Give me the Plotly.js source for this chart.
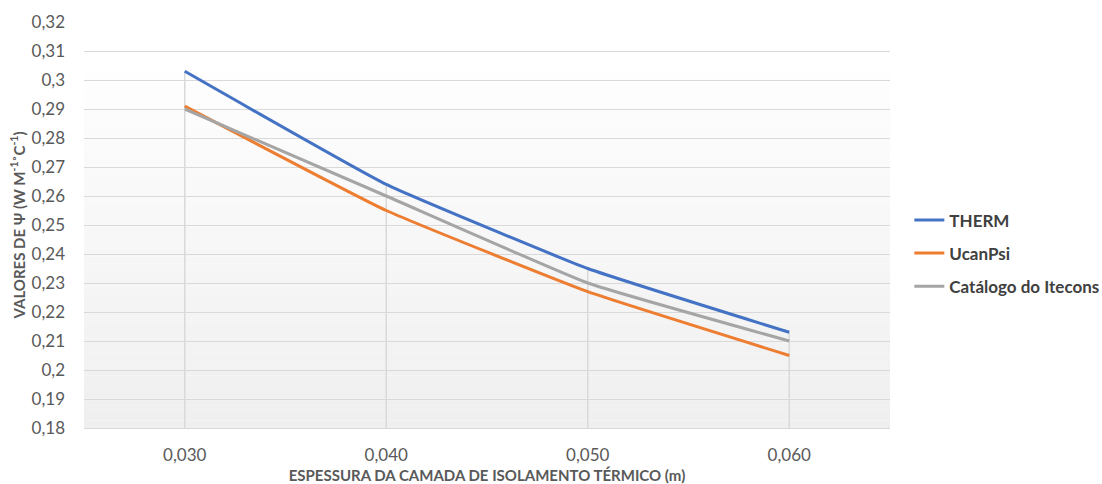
<!DOCTYPE html>
<html>
<head>
<meta charset="utf-8">
<script src="https://cdn.plot.ly/plotly-3.0.1.min.js"></script>
<style>
  html, body { margin: 0; padding: 0; background: #ffffff; }
  #chart { width: 1102px; height: 484px; }
</style>
</head>
<body>
<div id="chart"></div>
<script>
// Insulation layer thickness (m) and linear thermal transmittance Ψ (W m-1 °C-1)
const categories = ['0,030', '0,040', '0,050', '0,060'];
const therm    = [0.303, 0.264, 0.235, 0.213];
const ucanPsi  = [0.291, 0.255, 0.227, 0.205];
const itecons  = [0.290, 0.260, 0.230, 0.210];

const seriesNames = ['THERM', 'UcanPsi', 'Catálogo do Itecons'];
const seriesColors = ['#4472C4', '#ED7D31', '#A5A5A5'];

const yTickVals = [0.18, 0.19, 0.20, 0.21, 0.22, 0.23, 0.24, 0.25, 0.26, 0.27, 0.28, 0.29, 0.30, 0.31, 0.32];
const yTickText = ['0,18', '0,19', '0,2', '0,21', '0,22', '0,23', '0,24', '0,25', '0,26', '0,27', '0,28', '0,29', '0,3', '0,31', '0,32'];

const Y_MIN = 0.18, Y_MAX = 0.32;
const FONT = 'Lato, "Open Sans", sans-serif';

// Drop lines: one vertical segment per category, from the axis floor up to the highest series
const allSeries = [therm, ucanPsi, itecons];
const dropX = [], dropY = [];
categories.forEach((c, i) => {
  const top = Math.max(...allSeries.map(s => s[i]));
  dropX.push(c, c, null);
  dropY.push(Y_MIN, top, null);
});

const traces = [{
  x: dropX, y: dropY, mode: 'lines', type: 'scatter',
  line: { color: '#D9D9D9', width: 1.5 },
  hoverinfo: 'skip', showlegend: false, connectgaps: false
}];

allSeries.forEach((vals, k) => {
  traces.push({
    x: categories, y: vals, name: seriesNames[k], type: 'scatter', mode: 'lines',
    legendgroup: 'g' + k,
    line: { color: seriesColors[k], width: 3, shape: 'spline', smoothing: 0.35 }
  });
});

// Soft vertical gradient behind the grid (white near the top, light grey at the floor)
const shapes = [];
const gradTop = 0.3035, steps = 48;
for (let i = 0; i < steps; i++) {
  const y0 = gradTop - (gradTop - Y_MIN) * i / steps;
  const y1 = gradTop - (gradTop - Y_MIN) * (i + 1) / steps;
  const t = (i + 0.5) / steps;
  const v = Math.round(254 - (254 - 239) * t);
  shapes.push({
    type: 'rect', xref: 'paper', yref: 'y', x0: 0, x1: 1, y0: y1, y1: y0,
    fillcolor: `rgb(${v},${v},${v})`, line: { width: 0 }, layer: 'below'
  });
}

const layout = {
  width: 1102, height: 484,
  margin: { l: 84, r: 212, t: 22, b: 56, autoexpand: false },
  paper_bgcolor: '#FFFFFF', plot_bgcolor: '#FFFFFF',
  font: { family: FONT, color: '#595959' },
  showlegend: true,
  legend: {
    x: 1.024, y: 0.43, xanchor: 'left', yanchor: 'middle',
    traceorder: 'grouped', tracegroupgap: 8,
    font: { family: FONT, size: 17, color: '#404040', weight: 'bold' },
    bgcolor: 'rgba(0,0,0,0)'
  },
  xaxis: {
    type: 'category', range: [-0.5, 3.5],
    showgrid: false, zeroline: false,
    showline: true, linecolor: '#D9D9D9', linewidth: 1,
    ticks: '', ticklabelstandoff: 12,
    tickfont: { family: FONT, size: 17, color: '#595959' },
    title: { text: 'ESPESSURA DA CAMADA DE ISOLAMENTO TÉRMICO (m)', standoff: 10,
             font: { family: FONT, size: 15, color: '#595959', weight: 'bold' } }
  },
  yaxis: {
    range: [Y_MIN, Y_MAX], tickvals: yTickVals, ticktext: yTickText,
    showgrid: true, gridcolor: '#D9D9D9', gridwidth: 1,
    zeroline: false, showline: false, ticks: '', ticklabelstandoff: 18,
    tickfont: { family: FONT, size: 17, color: '#595959' },
    title: { text: 'VALORES DE Ψ (W M<sup>-1</sup>˚C<sup>-1</sup>)', standoff: 2,
             font: { family: FONT, size: 15, color: '#595959', weight: 'bold' } }
  },
  shapes: shapes
};

Plotly.newPlot('chart', traces, layout, { displayModeBar: false, staticPlot: true });
</script>
</body>
</html>
